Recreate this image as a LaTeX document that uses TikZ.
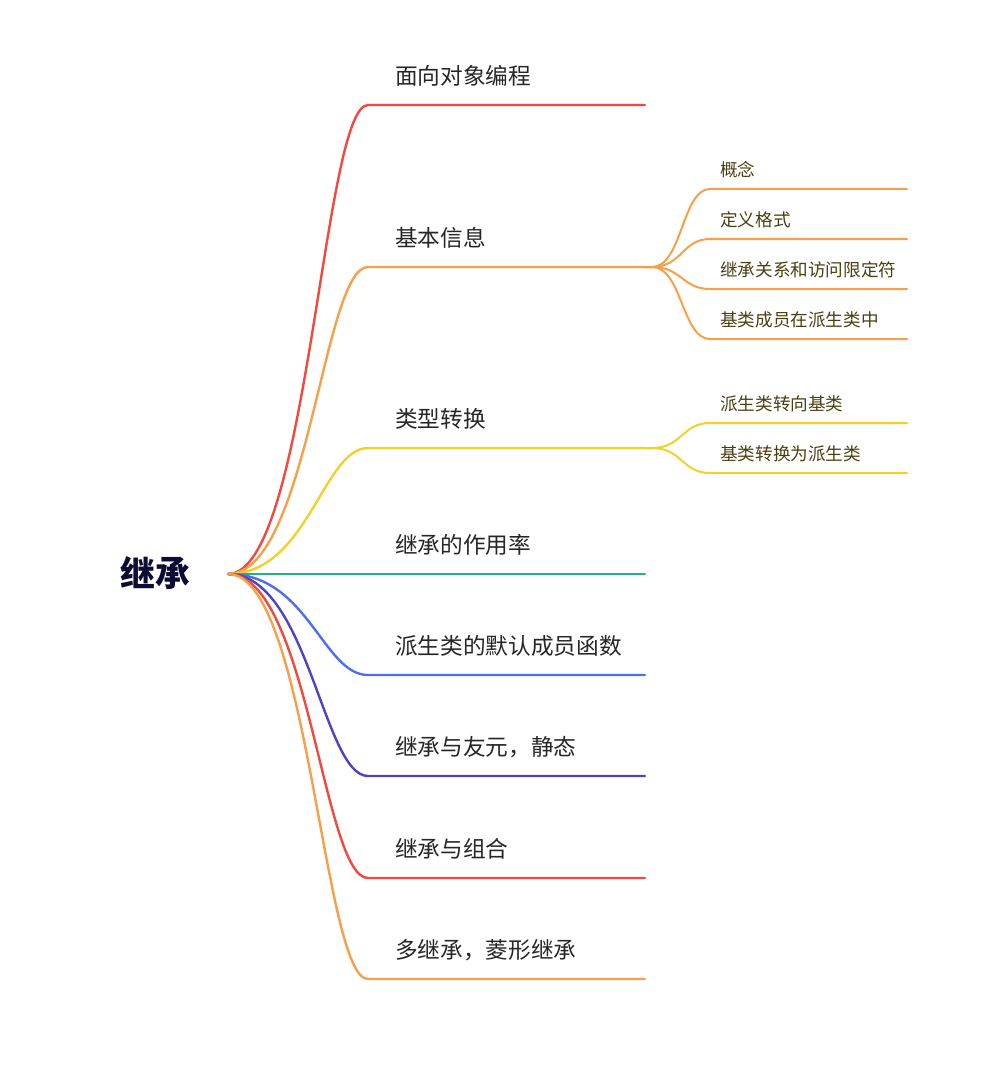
\documentclass[tikz,border=0pt]{standalone}
\usepackage{fontspec}
\newfontfamily\cjk{Noto Sans CJK SC}
\definecolor{cred}{HTML}{F2483E}
\definecolor{corange}{HTML}{F7A04B}
\definecolor{cyellow}{HTML}{F5D02A}
\definecolor{cgreen}{HTML}{1DB67F}
\definecolor{cblue}{HTML}{4C6EF5}
\definecolor{cindigo}{HTML}{4C44C4}
\definecolor{rootc}{HTML}{0D0D33}
\definecolor{subtext}{HTML}{4A3F10}
\tikzset{
  x=0.75pt, y=-0.75pt,
  mainlbl/.style={anchor=west, inner sep=0pt, font=\cjk\fontsize{17}{19}\selectfont, text=black!85},
  sublbl/.style={anchor=west, inner sep=0pt, font=\cjk\fontsize{13.2}{15}\selectfont, text=subtext},
  rootlbl/.style={inner sep=0pt, font=\cjk\bfseries\fontsize{26}{30}\selectfont, text=rootc},
  mainline/.style={line width=1.8pt, line cap=round},
  subline/.style={line width=1.5pt, line cap=round},
}
\begin{document}
\begin{tikzpicture}
\useasboundingbox (0,0) rectangle (1002,1066);
\node[rootlbl] (root) at (155,573) {继承};
\coordinate (o) at (228,574);
% main branches
\foreach \i/\y/\c/\t in {1/105/cred/面向对象编程, 2/267/corange/基本信息, 3/448/cyellow/类型转换, 4/574/cgreen/继承的作用率, 5/675/cblue/派生类的默认成员函数, 6/776/cindigo/{继承与友元，静态}, 7/878/cred/继承与组合, 8/979/corange/{多继承，菱形继承}}{
  \coordinate (b\i s) at (368,\y);
  \coordinate (b\i e) at (645,\y);
  \node[mainlbl] (m\i) at (395,\y-29) {\t};
  \draw[mainline, \c] (o) .. controls +(80,0) and +(-45,0) .. (b\i s) -- (b\i e);
}
% sub branches of 基本信息
\coordinate (j2) at (652,267);
\foreach \k/\y/\t in {1/189/概念, 2/239/定义格式, 3/289/继承关系和访问限定符, 4/339/基类成员在派生类中}{
  \coordinate (s2\k s) at (710,\y);
  \coordinate (s2\k e) at (907,\y);
  \node[sublbl] (t2\k) at (720,\y-19) {\t};
  \draw[subline, corange] (b2e) -- (j2) .. controls +(30,0) and +(-28,0) .. (s2\k s) -- (s2\k e);
}
% sub branches of 类型转换
\coordinate (j3) at (652,448);
\foreach \k/\y/\t in {1/423/派生类转向基类, 2/473/基类转换为派生类}{
  \coordinate (s3\k s) at (710,\y);
  \coordinate (s3\k e) at (907,\y);
  \node[sublbl] (t3\k) at (720,\y-19) {\t};
  \draw[subline, cyellow] (b3e) -- (j3) .. controls +(30,0) and +(-28,0) .. (s3\k s) -- (s3\k e);
}
\end{tikzpicture}
\end{document}
